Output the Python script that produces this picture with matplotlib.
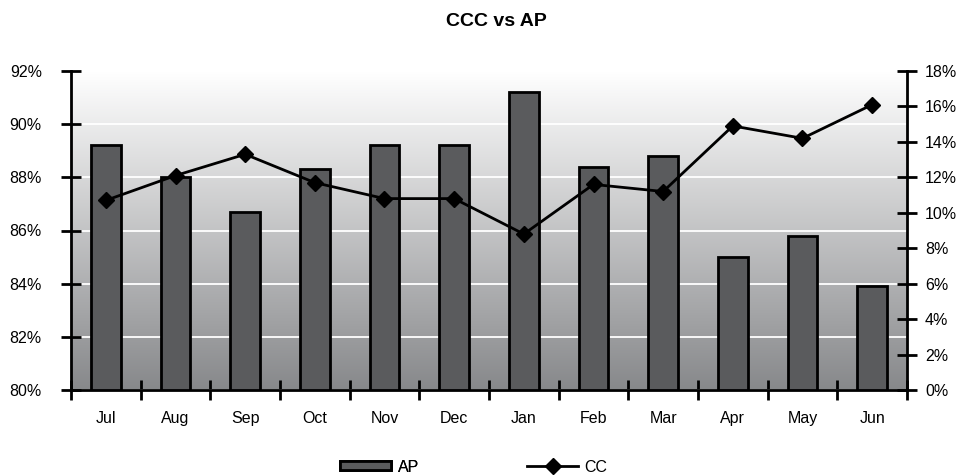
import numpy as np
import matplotlib
matplotlib.use("Agg")
import matplotlib.pyplot as plt
from matplotlib.ticker import FuncFormatter, MultipleLocator
from matplotlib.lines import Line2D
from matplotlib.patches import Patch

plt.rcParams['font.family'] = ['Liberation Sans', 'DejaVu Sans']

months = ["Jul", "Aug", "Sep", "Oct", "Nov", "Dec", "Jan", "Feb", "Mar", "Apr", "May", "Jun"]
ap = [89.2, 88.0, 86.7, 88.3, 89.2, 89.2, 91.2, 88.4, 88.8, 85.0, 85.8, 83.9]
cc = [10.7, 12.1, 13.3, 11.7, 10.8, 10.8, 8.8, 11.6, 11.2, 14.9, 14.2, 16.1]

FS = 11.5
BAR = '#5a5b5d'

fig = plt.figure(figsize=(9.6, 4.76), dpi=100)
ax = fig.add_axes([71/960, 1-390/476, (907-71)/960, (390-71)/476])

x = np.arange(len(months))
ax.set_xlim(-0.5, len(months) - 0.5)

# vertical gradient backdrop: white at the top, mid grey at the bottom
grad = np.linspace(0, 1, 256).reshape(-1, 1)
top = np.array([1.0, 1.0, 1.0])
bot = np.array([0.53, 0.535, 0.545])
img = (top + (bot - top) * grad).reshape(256, 1, 3)
ax.imshow(img, extent=[0, 1, 0, 1], transform=ax.transAxes, aspect='auto', zorder=0)

ax.bar(x, ap, width=0.43, color=BAR, edgecolor='black', lw=2, zorder=2)
ax.set_ylim(80, 92)
ax.yaxis.set_major_locator(MultipleLocator(2))
ax.yaxis.set_major_formatter(FuncFormatter(lambda v, p: f"{v:.0f}%"))
ax.grid(axis='y', color='white', lw=1.3, zorder=1)
ax.set_axisbelow(True)

ax.set_xticks(x)
ax.set_xticklabels(months)
ax.set_xticks(np.arange(-0.5, len(months)), minor=True)
ax.tick_params(axis='x', which='major', length=0, pad=15, labelsize=FS)
ax.tick_params(axis='x', which='minor', direction='inout', length=14, width=2)
ax.tick_params(axis='y', direction='inout', length=14, width=2, labelsize=FS, pad=14)

for s in ['top', 'right']:
    ax.spines[s].set_visible(False)
for s in ['left', 'bottom']:
    ax.spines[s].set_linewidth(2)

ax2 = ax.twinx()
ax2.set_ylim(0, 18)
ax2.yaxis.set_major_locator(MultipleLocator(2))
ax2.yaxis.set_major_formatter(FuncFormatter(lambda v, p: f"{v:.0f}%"))
ax2.tick_params(axis='y', direction='inout', length=14, width=2, labelsize=FS, pad=6)
for s in ['top', 'left', 'bottom']:
    ax2.spines[s].set_visible(False)
ax2.spines['right'].set_linewidth(2)
ax2.plot(x, cc, color='black', lw=2, marker='D', markersize=8, zorder=3)

fig.text(496/960, 1-21/476, "CCC vs AP", ha='center', va='center', fontsize=14, fontweight='bold')

ap_handle = Patch(facecolor=BAR, edgecolor='black', lw=2)
cc_handle = Line2D([0], [0], color='black', lw=2, marker='D', markersize=8)
leg_kw = dict(frameon=False, fontsize=FS, handlelength=3.2, handleheight=0.5,
              handletextpad=0.4, borderpad=0, borderaxespad=0)
leg1 = fig.legend([ap_handle], ["AP"], loc='center left',
                  bbox_to_anchor=(340/960, 1-467/476), **leg_kw)
fig.add_artist(leg1)
fig.legend([cc_handle], ["CC"], loc='center left',
           bbox_to_anchor=(527/960, 1-467/476), **leg_kw)

fig.savefig("out.png", dpi=100)
